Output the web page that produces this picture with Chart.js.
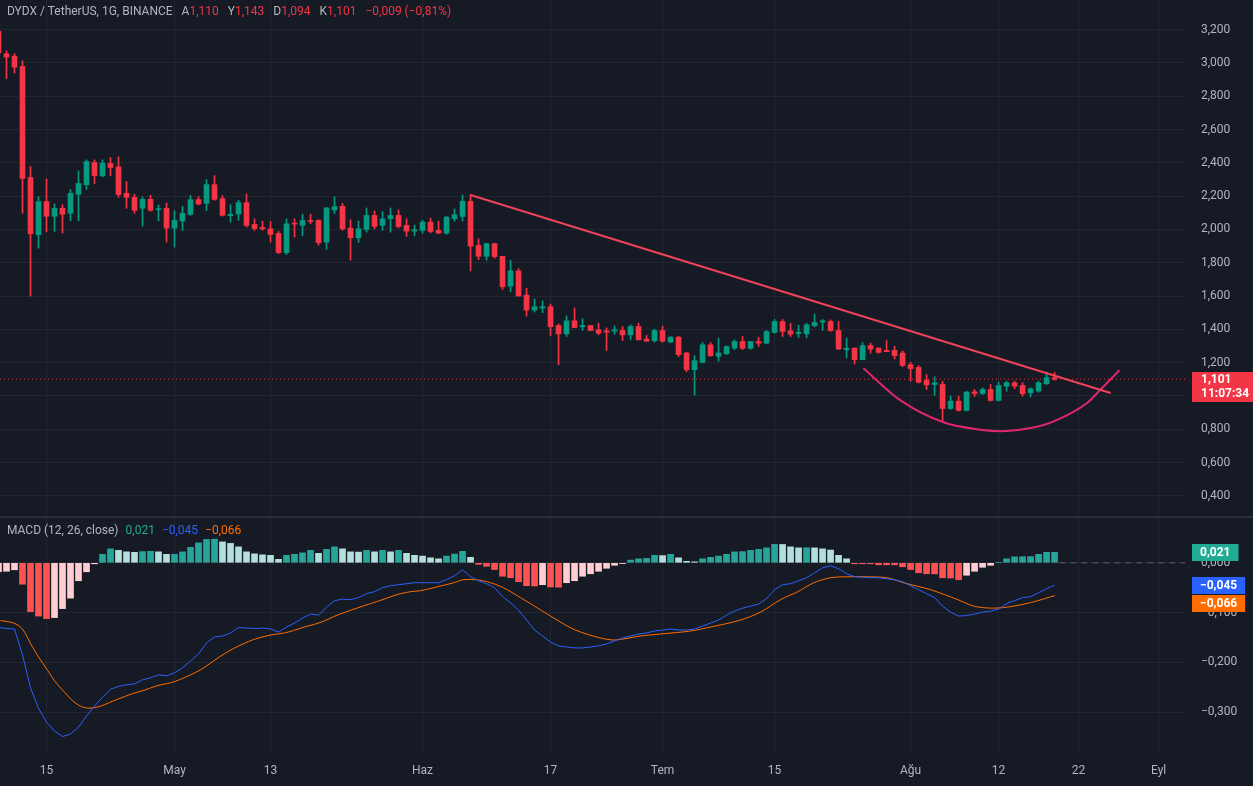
<!DOCTYPE html>
<html>
<head>
<meta charset="utf-8">
<script src="https://cdn.jsdelivr.net/npm/chart.js@4.4.1/dist/chart.umd.min.js"></script>
<style>
html, body { margin: 0; padding: 0; background: #161a25; }
#wrap { position: relative; width: 1253px; height: 786px; }
.leg { position: absolute; left: 7px; font: 12px Roboto, sans-serif; color: #b2b5be; white-space: pre; }
.leg .g { margin-left: 9px; }
.leg .v { margin-left: 7px; }
.r { color: #f23645; }
</style>
</head>
<body>
<div id="wrap">
	<canvas id="chart"></canvas>
	<div class="leg" id="head" style="top:4px"></div>
	<div class="leg" id="macdHead" style="top:523px"></div>
</div>
<script>
// Daily candles, first one is 9 Nisan (day index -6, 15 Nisan = 0)
const firstDay = -6;

const opens = [
	3.19, 3.055, 3.041, 2.979, 2.312, 1.968, 2.167, 2.079, 2.127, 2.097,
	2.211, 2.269, 2.402, 2.322, 2.396, 2.376, 2.217, 2.193, 2.127, 2.181,
	2.119, 2.127, 2.008, 2.050, 2.090, 2.179, 2.157, 2.269, 2.185, 2.083,
	2.093, 2.161, 2.030, 2.012, 2.004, 1.976, 1.861, 2.038, 2.024, 2.054,
	2.054, 1.924, 2.117, 2.139, 2.008, 1.950, 2.000, 2.084, 2.024, 2.064,
	2.084, 2.024, 1.990, 1.994, 2.044, 1.994, 1.978, 2.064, 2.078, 2.169,
	1.904, 1.839, 1.915, 1.839, 1.660, 1.751, 1.606, 1.516, 1.528, 1.536,
	1.423, 1.373, 1.451, 1.415, 1.423, 1.397, 1.391, 1.389, 1.393, 1.367,
	1.417, 1.341, 1.331, 1.393, 1.323, 1.353, 1.258, 1.158, 1.202, 1.307,
	1.238, 1.254, 1.288, 1.327, 1.286, 1.327, 1.317, 1.381, 1.447, 1.391,
	1.375, 1.373, 1.421, 1.443, 1.447, 1.393, 1.278, 1.288, 1.218, 1.303,
	1.288, 1.274, 1.274, 1.258, 1.188, 1.172, 1.094, 1.069, 1.069, 0.925,
	0.969, 0.913, 1.025, 1.015, 1.039, 0.973, 1.059, 1.079, 1.063, 1.019,
	1.029, 1.073, 1.110
];
const highs = [
	3.23, 3.073, 3.055, 3.013, 2.378, 2.197, 2.303, 2.153, 2.149, 2.239,
	2.352, 2.418, 2.418, 2.418, 2.432, 2.436, 2.287, 2.211, 2.197, 2.205,
	2.147, 2.159, 2.113, 2.139, 2.205, 2.197, 2.299, 2.323, 2.203, 2.149,
	2.175, 2.213, 2.064, 2.050, 2.048, 1.988, 2.064, 2.064, 2.092, 2.092,
	2.058, 2.133, 2.197, 2.157, 2.058, 2.050, 2.129, 2.111, 2.107, 2.129,
	2.117, 2.064, 2.026, 2.054, 2.068, 2.050, 2.078, 2.123, 2.207, 2.209,
	1.944, 1.915, 1.917, 1.839, 1.815, 1.765, 1.646, 1.582, 1.572, 1.552,
	1.433, 1.480, 1.528, 1.463, 1.423, 1.437, 1.409, 1.421, 1.417, 1.427,
	1.437, 1.363, 1.401, 1.419, 1.357, 1.357, 1.262, 1.242, 1.321, 1.321,
	1.347, 1.301, 1.337, 1.357, 1.327, 1.353, 1.393, 1.459, 1.459, 1.435,
	1.425, 1.437, 1.492, 1.459, 1.457, 1.447, 1.347, 1.288, 1.320, 1.317,
	1.288, 1.333, 1.298, 1.270, 1.202, 1.182, 1.128, 1.115, 1.088, 1.000,
	0.999, 1.029, 1.039, 1.049, 1.069, 1.083, 1.089, 1.089, 1.079, 1.049,
	1.089, 1.143, 1.143
];
const lows = [
	3.03, 2.906, 2.939, 2.097, 1.600, 1.888, 1.986, 1.988, 1.978, 2.052,
	2.052, 2.241, 2.276, 2.316, 2.322, 2.193, 2.127, 2.097, 2.020, 2.110,
	2.052, 1.924, 1.894, 1.994, 2.085, 2.147, 2.113, 2.175, 2.080, 2.044,
	2.055, 2.014, 1.994, 1.994, 1.924, 1.855, 1.849, 1.954, 1.962, 2.034,
	1.906, 1.881, 2.094, 1.994, 1.815, 1.922, 1.984, 2.002, 1.994, 1.984,
	2.010, 1.958, 1.962, 1.978, 1.980, 1.974, 1.970, 2.050, 2.050, 1.751,
	1.819, 1.815, 1.827, 1.640, 1.626, 1.600, 1.480, 1.504, 1.500, 1.361,
	1.188, 1.357, 1.411, 1.393, 1.393, 1.367, 1.273, 1.371, 1.333, 1.337,
	1.337, 1.329, 1.323, 1.323, 1.321, 1.236, 1.146, 1.005, 1.198, 1.238,
	1.208, 1.248, 1.278, 1.278, 1.280, 1.297, 1.313, 1.377, 1.357, 1.357,
	1.351, 1.349, 1.415, 1.393, 1.387, 1.278, 1.228, 1.192, 1.218, 1.257,
	1.257, 1.266, 1.222, 1.176, 1.088, 1.078, 1.039, 1.003, 0.840, 0.919,
	0.909, 0.909, 0.997, 1.009, 0.969, 0.969, 1.029, 1.043, 0.999, 0.995,
	1.023, 1.069, 1.094
];
const closes = [
	3.06, 3.035, 2.975, 2.306, 1.974, 2.167, 2.079, 2.127, 2.091, 2.217,
	2.276, 2.408, 2.324, 2.398, 2.372, 2.209, 2.193, 2.115, 2.181, 2.115,
	2.125, 2.008, 2.054, 2.097, 2.179, 2.153, 2.269, 2.181, 2.085, 2.091,
	2.161, 2.024, 2.006, 2.004, 1.970, 1.861, 2.034, 2.032, 2.054, 2.048,
	1.920, 2.129, 2.137, 2.004, 1.950, 2.004, 2.084, 2.018, 2.064, 2.084,
	2.018, 1.990, 1.998, 2.044, 1.988, 1.978, 2.074, 2.088, 2.169, 1.900,
	1.839, 1.915, 1.837, 1.656, 1.751, 1.600, 1.516, 1.536, 1.536, 1.416,
	1.373, 1.451, 1.411, 1.423, 1.393, 1.377, 1.383, 1.397, 1.367, 1.417,
	1.337, 1.329, 1.393, 1.329, 1.353, 1.248, 1.158, 1.212, 1.307, 1.242,
	1.258, 1.297, 1.327, 1.286, 1.327, 1.317, 1.387, 1.447, 1.387, 1.371,
	1.383, 1.427, 1.441, 1.451, 1.393, 1.282, 1.286, 1.218, 1.302, 1.282,
	1.262, 1.266, 1.242, 1.184, 1.164, 1.082, 1.067, 1.079, 0.925, 0.969,
	0.913, 1.023, 1.015, 1.039, 0.973, 1.063, 1.079, 1.059, 1.013, 1.043,
	1.079, 1.110, 1.101
];

// MACD (12, 26, close)
const macdValues = [
	-0.130, -0.132, -0.133, -0.185, -0.251, -0.292, -0.320, -0.338, -0.349, -0.344,
	-0.330, -0.308, -0.288, -0.270, -0.254, -0.248, -0.245, -0.243, -0.235, -0.231,
	-0.225, -0.227, -0.221, -0.211, -0.197, -0.183, -0.161, -0.149, -0.147, -0.141,
	-0.130, -0.131, -0.132, -0.131, -0.133, -0.139, -0.129, -0.121, -0.111, -0.103,
	-0.105, -0.089, -0.076, -0.073, -0.074, -0.070, -0.062, -0.058, -0.050, -0.046,
	-0.044, -0.042, -0.040, -0.040, -0.040, -0.040, -0.034, -0.026, -0.014, -0.028,
	-0.036, -0.042, -0.050, -0.068, -0.080, -0.095, -0.115, -0.135, -0.147, -0.159,
	-0.167, -0.169, -0.171, -0.171, -0.169, -0.167, -0.163, -0.157, -0.151, -0.147,
	-0.143, -0.141, -0.137, -0.135, -0.133, -0.135, -0.135, -0.133, -0.127, -0.121,
	-0.115, -0.105, -0.097, -0.091, -0.087, -0.083, -0.072, -0.054, -0.044, -0.042,
	-0.036, -0.030, -0.020, -0.010, -0.006, -0.012, -0.022, -0.028, -0.029, -0.030,
	-0.030, -0.032, -0.034, -0.038, -0.046, -0.054, -0.062, -0.070, -0.087, -0.099,
	-0.107, -0.106, -0.103, -0.099, -0.097, -0.093, -0.082, -0.076, -0.070, -0.068,
	-0.060, -0.052, -0.045
];
const histValues = [
	-0.018, -0.017, -0.014, -0.043, -0.098, -0.107, -0.112, -0.110, -0.092, -0.071,
	-0.036, -0.018, -0.002, 0.017, 0.028, 0.025, 0.022, 0.021, 0.0225, 0.023,
	0.022, 0.017, 0.0172, 0.022, 0.031, 0.040, 0.047, 0.0475, 0.042, 0.039,
	0.032, 0.022, 0.018, 0.016, 0.015, 0.007, 0.015, 0.017, 0.020, 0.025,
	0.019, 0.027, 0.032, 0.028, 0.022, 0.0215, 0.025, 0.022, 0.025, 0.022,
	0.025, 0.019, 0.015, 0.0135, 0.010, 0.008, 0.0135, 0.0175, 0.023, 0.011,
	-0.003, -0.007, -0.0135, -0.027, -0.030, -0.038, -0.046, -0.0465, -0.044, -0.0485,
	-0.049, -0.040, -0.036, -0.027, -0.022, -0.017, -0.011, -0.005, -0.0015, 0.0054,
	0.008, 0.0088, 0.015, 0.0145, 0.017, 0.010, 0.003, 0.002, 0.008, 0.011,
	0.0135, 0.017, 0.022, 0.0225, 0.025, 0.027, 0.030, 0.037, 0.0368, 0.032,
	0.030, 0.0302, 0.030, 0.028, 0.0256, 0.015, 0.008, -0.002, -0.002, -0.002,
	-0.004, -0.004, -0.004, -0.008, -0.0135, -0.020, -0.022, -0.0222, -0.030, -0.0305,
	-0.034, -0.025, -0.017, -0.009, -0.005, 0.0007, 0.008, 0.012, 0.0122, 0.0124,
	0.017, 0.021, 0.0212
];
// signal line, read at the points where it bends
const signalDays = [
	-5.75, -4.1, -3, -2, -1, 0.1, 1.1, 2.2, 3.2, 4.25, 5.3, 6.3, 7.4, 8.4, 9.7,
	10.9, 12.2, 13.8, 15.5, 16.75, 18, 19.25, 20.9, 22.2, 23.4, 24.7, 25.9, 27.2, 28.4, 29.7,
	30.9, 32.2, 33.4, 34.7, 35.9, 37.2, 38.8, 40.5, 42.2, 43.8, 45.5, 46.75, 48.9, 50.9, 52.1,
	53.6, 55.1, 57.1, 59.25, 61.4, 63.4, 66.1, 69.25, 71.1, 74.25, 76.75, 80.5, 83, 86.75, 89.25,
	91.75, 93.9, 95.9, 98, 100.1, 102.1, 105.1, 107.1, 110.5, 113.9, 115.9, 118, 120.1, 123, 126
];
const signalValues = [
	-0.116, -0.121, -0.133, -0.162, -0.189, -0.215, -0.239, -0.259, -0.276, -0.288, -0.292, -0.290, -0.284, -0.277, -0.269,
	-0.262, -0.256, -0.247, -0.241, -0.234, -0.225, -0.215, -0.197, -0.183, -0.172, -0.162, -0.154, -0.148, -0.144, -0.141,
	-0.136, -0.129, -0.124, -0.117, -0.108, -0.100, -0.091, -0.082, -0.073, -0.064, -0.058, -0.056, -0.048, -0.040, -0.034,
	-0.034, -0.038, -0.050, -0.070, -0.091, -0.111, -0.135, -0.151, -0.155, -0.147, -0.143, -0.137, -0.129, -0.115, -0.099,
	-0.074, -0.058, -0.040, -0.030, -0.028, -0.028, -0.030, -0.040, -0.054, -0.074, -0.087, -0.091, -0.089, -0.080, -0.066
];

// drawings on the price pane
const trendDays = [53, 133];
const trendPrices = [2.207, 1.018];
const arcDays = [102.1, 106.75, 112.1, 116.75, 119.25, 122.6, 125.5, 130.1, 131.75, 134.1];
const arcPrices = [1.167, 0.973, 0.842, 0.797, 0.788, 0.804, 0.840, 0.959, 1.039, 1.154];

// axes
const priceTicks = [0.4, 0.6, 0.8, 1.0, 1.2, 1.4, 1.6, 1.8, 2.0, 2.2, 2.4, 2.6, 2.8, 3.0, 3.2];
const macdTicks = [-0.3, -0.2, -0.1, 0];
const dateTicks = [0, 16, 28, 47, 63, 77, 91, 108, 119, 129, 139];
const dateLabels = ['15', 'May', '13', 'Haz', '17', 'Tem', '15', 'Ağu', '12', '22', 'Eyl'];
const countdown = '11:07:34';

const BG = '#161a25';
const GRID = '#222631';
const TEXT = '#b2b5be';
const UP = '#089981';
const DOWN = '#f23645';
const BLUE = '#2962ff';
const ORANGE = '#ff6d00';

const xMin = -5.8125;
const xMax = 142.3;
const days = opens.map((_, k) => firstDay + k);
const last = closes.length - 1;

const fmt = v => (v < 0 ? '\u2212' : '') + Math.abs(v).toFixed(3).replace('.', ',');
const candleColor = k => closes[k] >= opens[k] ? UP : DOWN;

function histColor(k) {
	const v = histValues[k];
	const prev = k > 0 ? histValues[k - 1] : v - 1;
	if (v >= 0) return prev < v ? '#26a69a' : '#b2dfdb';
	return prev < v ? '#ffcdd2' : '#ff5252';
}

// axis boxes keep a fixed size and add no padding to the chart area
function fixBox(size) {
	return s => {
		if (s.isHorizontal()) s.height = size; else s.width = size;
		s.paddingTop = 0;
		s.paddingBottom = 0;
		s.paddingLeft = 0;
		s.paddingRight = 0;
	};
}

// texts above the panes
const change = closes[last] - closes[last - 1];
document.getElementById('head').innerHTML =
	'DYDX / TetherUS, 1G, BINANCE<span class="g">A</span><span class="r">' + fmt(opens[last]) +
	'</span><span class="g">Y</span><span class="r">' + fmt(highs[last]) +
	'</span><span class="g">D</span><span class="r">' + fmt(lows[last]) +
	'</span><span class="g">K</span><span class="r">' + fmt(closes[last]) +
	'</span><span class="r g">' + fmt(change) + ' (' +
	(change < 0 ? '\u2212' : '') + Math.abs(change / closes[last - 1] * 100).toFixed(2).replace('.', ',') + '%)</span>';
document.getElementById('macdHead').innerHTML =
	'MACD (12, 26, close)<span class="v" style="color:#22ab94">' + fmt(histValues[last]) +
	'</span><span class="v" style="color:' + BLUE + '">' + fmt(macdValues[last]) +
	'</span><span class="v" style="color:' + ORANGE + '">' + fmt(signalValues[signalValues.length - 1]) + '</span>';

// background, pane separator and the value boxes on the right axis
const overlay = {
	id: 'overlay',
	beforeDraw(chart) {
		const ctx = chart.ctx;
		ctx.save();
		ctx.fillStyle = BG;
		ctx.fillRect(0, 0, chart.width, chart.height);
		ctx.restore();
	},
	afterDraw(chart) {
		const ctx = chart.ctx;
		const y = chart.scales.y;
		const m = chart.scales.macd;
		ctx.save();

		ctx.fillStyle = '#2a2e39';
		ctx.fillRect(0, Math.round(y.bottom) - 1, chart.width, 2);

		const left = Math.round(y.left) + 7;
		const py = y.getPixelForValue(closes[last]);
		ctx.fillStyle = candleColor(last);
		ctx.fillRect(left, Math.round(py) - 7, chart.width - left, 30);
		ctx.fillStyle = '#ffffff';
		ctx.font = 'bold 12px Roboto, sans-serif';
		ctx.textBaseline = 'middle';
		ctx.textAlign = 'left';
		ctx.fillText(fmt(closes[last]), left + 9, py + 1);
		ctx.fillText(countdown, left + 9, py + 15);

		const boxes = [
			{ v: histValues[last], c: '#22ab94' },
			{ v: macdValues[last], c: BLUE },
			{ v: signalValues[signalValues.length - 1], c: ORANGE }
		];
		let prevBottom = -100;
		boxes.forEach(b => {
			const cy = m.getPixelForValue(b.v);
			const top = Math.max(Math.round(cy) - 8, prevBottom + 1);
			const txt = fmt(b.v);
			const w = ctx.measureText(txt).width + 16;
			ctx.fillStyle = b.c;
			ctx.fillRect(left, top, w, 17);
			ctx.fillStyle = '#ffffff';
			ctx.fillText(txt, left + 8, top + 9);
			prevBottom = top + 17;
		});
		ctx.restore();
	}
};

Chart.defaults.font.family = 'Roboto, sans-serif';
Chart.defaults.font.size = 12;
Chart.defaults.color = TEXT;

const ctx = document.getElementById('chart').getContext('2d');

const chart = new Chart(ctx, {
	type: 'bar',
	data: {
		datasets: [
			{
				type: 'line',
				label: 'MACD',
				yAxisID: 'macd',
				data: days.map((d, k) => ({ x: d, y: macdValues[k] })),
				borderColor: BLUE,
				borderWidth: 1,
				pointRadius: 0,
				order: 1
			},
			{
				type: 'line',
				label: 'Signal',
				yAxisID: 'macd',
				data: signalDays.map((d, k) => ({ x: d, y: signalValues[k] })),
				borderColor: ORANGE,
				borderWidth: 1,
				pointRadius: 0,
				tension: 0.3,
				order: 1
			},
			{
				type: 'line',
				label: 'Trend',
				yAxisID: 'y',
				data: trendDays.map((d, k) => ({ x: d, y: trendPrices[k] })),
				borderColor: '#f0435a',
				borderWidth: 2,
				pointRadius: 0,
				order: 1
			},
			{
				type: 'line',
				label: 'Arc',
				yAxisID: 'y',
				data: arcDays.map((d, k) => ({ x: d, y: arcPrices[k] })),
				borderColor: '#e0266c',
				borderWidth: 2,
				pointRadius: 0,
				cubicInterpolationMode: 'monotone',
				order: 1
			},
			{
				label: 'Bodies',
				yAxisID: 'y',
				data: days.map((d, k) => ({ x: d, y: [opens[k], closes[k]] })),
				backgroundColor: c => candleColor(c.dataIndex),
				barThickness: 5,
				minBarLength: 1,
				grouped: false,
				order: 2
			},
			{
				label: 'Wicks',
				yAxisID: 'y',
				data: days.map((d, k) => ({ x: d, y: [lows[k], highs[k]] })),
				backgroundColor: c => candleColor(c.dataIndex),
				barThickness: 1,
				grouped: false,
				order: 3
			},
			{
				label: 'Histogram',
				yAxisID: 'macd',
				data: days.map((d, k) => ({ x: d, y: histValues[k] })),
				backgroundColor: c => histColor(c.dataIndex),
				barThickness: 6,
				grouped: false,
				order: 4
			},
			{
				type: 'line',
				label: 'Last',
				yAxisID: 'y',
				data: [{ x: xMin, y: closes[last] }, { x: xMax, y: closes[last] }],
				borderColor: DOWN,
				borderWidth: 1,
				borderDash: [1, 3],
				pointRadius: 0,
				order: 5
			},
			{
				type: 'line',
				label: 'Zero',
				yAxisID: 'macd',
				data: [{ x: days[last] + 0.6, y: 0 }, { x: xMax, y: 0 }],
				borderColor: '#5d606b',
				borderWidth: 1,
				borderDash: [6, 5],
				pointRadius: 0,
				order: 5
			}
		]
	},
	options: {
		responsive: true,
		maintainAspectRatio: false,
		animation: false,
		events: [],
		layout: { padding: 0, autoPadding: false },
		plugins: {
			legend: { display: false },
			tooltip: { enabled: false }
		},
		scales: {
			x: {
				type: 'linear',
				min: xMin,
				max: xMax,
				offset: false,
				afterBuildTicks: s => { s.ticks = dateTicks.map(v => ({ value: v })); },
				afterFit: fixBox(34),
				ticks: {
					callback: (v, i) => dateLabels[i],
					autoSkip: false,
					maxRotation: 0,
					padding: 12,
					color: TEXT
				},
				grid: { color: GRID, drawTicks: false, offset: false },
				border: { display: false }
			},
			y: {
				type: 'linear',
				position: 'right',
				stack: 'pane',
				stackWeight: 517,
				min: 0.273,
				max: 3.378,
				afterBuildTicks: s => { s.ticks = priceTicks.map(v => ({ value: v })); },
				afterFit: fixBox(68),
				ticks: { callback: v => fmt(v), padding: 16, color: TEXT },
				grid: { color: GRID, drawTicks: false },
				border: { display: false }
			},
			macd: {
				type: 'linear',
				position: 'right',
				stack: 'pane',
				stackWeight: 235,
				min: -0.380,
				max: 0.092,
				afterBuildTicks: s => { s.ticks = macdTicks.map(v => ({ value: v })); },
				afterFit: fixBox(68),
				ticks: { callback: v => fmt(v), padding: 16, color: TEXT },
				grid: { color: GRID, drawTicks: false },
				border: { display: false }
			}
		}
	},
	plugins: [overlay]
});
</script>
</body>
</html>
